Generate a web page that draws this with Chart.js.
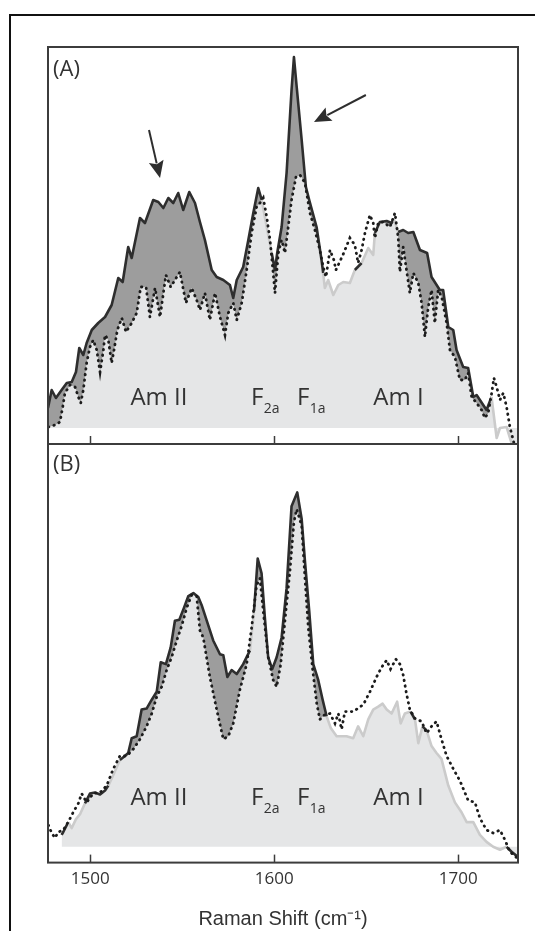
<!DOCTYPE html>
<html>
<head>
<meta charset="utf-8">
<script src="https://cdn.jsdelivr.net/npm/chart.js@4.4.0/dist/chart.umd.min.js"></script>
<style>
  html, body { margin: 0; padding: 0; background: #fff; }
  body { width: 535px; height: 931px; position: relative; overflow: hidden; }
  #cadre { position: absolute; left: 9px; top: 14px; width: 700px; height: 1000px;
           border-left: 2.5px solid #111; border-top: 2.5px solid #111; }
  canvas { position: absolute; }
  #grapheA { left: 38px; top: 37px; }
  #grapheB { left: 38px; top: 434px; }
</style>
</head>
<body>
<div id="cadre"></div>
<canvas id="grapheA" width="490" height="417"></canvas>
<canvas id="grapheB" width="490" height="497"></canvas>
<script>
'use strict';
/*-------------------------------------------------------*\
     Données : [nombre d'onde, intensité]
\*-------------------------------------------------------*/
// Panneau (A) : spectre en trait plein
var aPlein = [[1477,20],[1479,38],[1481.3,30],[1484.4,38],[1487.2,45],[1489.9,46],[1492.2,56],[1494,80],[1496.2,73],[1498,85],
  [1500.8,98],[1504.3,105],[1508,111],[1511.6,123],[1515.2,150],[1517.6,146],[1520.6,181],[1522.5,170],[1527,210],[1529.7,205],
  [1534.2,228],[1537,226],[1539.7,220],[1542.4,230],[1545.1,225],[1547.8,235],[1550.5,218],[1553.8,236],[1556.9,225],[1559.6,206],
  [1562.3,188],[1566,158],[1568.7,151],[1572.3,148],[1575.9,143],[1577.7,130],[1579.6,148],[1583.1,161],[1585.9,188],[1588.6,215],
  [1591.3,240],[1593.2,228],[1595.9,201],[1598.6,175],[1600.4,158],[1601.6,175],[1604,201],[1606.7,255],[1609.4,338],[1610.7,371],
  [1612.2,341],[1614.9,288],[1617.2,241],[1619,228],[1623,201],[1625.7,168],[1626.6,155],[1627.5,140],[1629.3,148],[1632.1,133],
  [1634.8,143],[1637.5,146],[1641.1,145],[1643.8,158],[1647.5,165],[1651.1,180],[1653.8,173],[1654.7,195],[1657.4,206],[1661.1,207],
  [1663.8,205],[1665,209],[1667.4,196],[1670.1,198],[1672.8,195],[1675.6,196],[1679.2,178],[1683.1,175],[1685.5,151],[1690,138],
  [1691.8,138],[1694.6,101],[1697.3,98],[1699.1,78],[1702.7,61],[1705.4,60],[1708.2,31],[1710,33],[1713.6,23],[1715.4,18],
  [1718.1,31],[1720.9,-10],[1722.7,0],[1726.3,1],[1729,-15],[1730.8,-19],[1732.4,-25]];
// Panneau (A) : spectre en pointillés
var aPointilles = [[1477.2,1],[1480.8,3],[1483.5,6],[1485,21],[1486.2,35],[1489,43],[1491.7,41],[1493.5,31],[1494.8,25],[1496.2,38],
  [1498,65],[1499.8,81],[1501.6,88],[1503.5,78],[1505.3,56],[1507.1,78],[1508,93],[1509.8,88],[1511.6,65],[1512.9,78],
  [1514.7,98],[1517.1,110],[1519.4,96],[1522.5,105],[1525.2,115],[1527.4,141],[1530.3,141],[1532.4,111],[1535.2,140],[1537.9,111],
  [1541.1,153],[1543.7,141],[1547,151],[1548.7,156],[1552,125],[1555.1,140],[1557.8,128],[1559.6,118],[1562.3,135],[1565,108],
  [1567.8,135],[1570.5,111],[1573.2,93],[1575,115],[1577.7,125],[1579.6,108],[1582.3,125],[1585,158],[1587.7,195],[1590.4,221],
  [1592.2,225],[1594,230],[1595.9,211],[1597.7,188],[1599.1,161],[1600.4,135],[1602.2,175],[1604,188],[1605.8,175],[1607.6,201],
  [1609.4,228],[1611.8,251],[1614,253],[1616.7,245],[1619.4,215],[1622.1,198],[1624.8,178],[1626.6,161],[1628.1,151],[1630.3,178],
  [1632.4,168],[1633.5,158],[1637.3,173],[1641.1,190],[1643.8,183],[1645.6,165],[1647.5,178],[1649.3,195],[1652,213],[1653.8,205],
  [1654.7,190],[1656.5,205],[1659.2,206],[1662.9,201],[1665.6,215],[1667.4,190],[1668.3,156],[1670.1,181],[1671.9,158],[1673.7,135],
  [1675.6,155],[1678.3,145],[1680.1,125],[1681.9,91],[1683.7,121],[1685.5,138],[1687.3,105],[1689.1,138],[1691,131],[1693.7,105],
  [1695.5,78],[1698.2,71],[1700.9,48],[1703.6,48],[1705.4,55],[1707.3,31],[1710,25],[1712.7,18],[1714.5,10],[1716.3,15],
  [1718.2,35],[1719.4,50],[1720.9,41],[1722.7,28],[1724.5,35],[1726.3,21],[1728.1,1],[1729.9,-12],[1730.8,-19]];
// Panneau (B) : spectre en trait plein
var bPlein = [[1484.4,12],[1485.3,15],[1488,25],[1489.9,19],[1492.2,28],[1494.4,33],[1497.1,44],[1499.8,54],[1502.5,55],[1505.3,53],
  [1508,57],[1509.8,62],[1512.3,72],[1516.1,88],[1518.8,92],[1520.6,95],[1522.5,110],[1525.2,112],[1527.9,139],[1530.6,140],
  [1533.4,149],[1536.1,157],[1538.3,187],[1541.1,185],[1543.7,202],[1546,229],[1548.4,230],[1550.9,242],[1553.3,254],[1556,257],
  [1558.7,253],[1560.5,245],[1563.3,229],[1566.8,209],[1570.5,195],[1572.3,194],[1574.5,172],[1576.8,179],[1579.6,175],[1583.1,185],
  [1586.8,199],[1589,239],[1591,292],[1593.1,277],[1594.9,232],[1596.7,192],[1598.9,180],[1601.3,192],[1604,212],[1606.7,262],
  [1609.4,345],[1612.5,359],[1614.9,332],[1616.7,289],[1619,239],[1621.2,185],[1623.9,169],[1626.3,149],[1628.5,132],[1630.8,120],
  [1633.9,112],[1637.5,112],[1639.3,112],[1642.9,110],[1645.6,122],[1648.4,112],[1651.1,129],[1653.8,139],[1656.5,142],[1658.9,145],
  [1661.1,139],[1663.8,135],[1666.8,147],[1668.7,125],[1671,135],[1674.1,137],[1676.5,129],[1678.3,105],[1680.6,122],[1682.8,118],
  [1685.5,102],[1688.2,95],[1690.9,89],[1694.6,62],[1698.2,45],[1701.8,35],[1704.6,25],[1708.2,25],[1711.8,12],[1715.4,5],
  [1719,0],[1722.7,-3],[1726.3,0],[1729,-5],[1732.4,-10]];
// Panneau (B) : spectre en pointillés
var bPointilles = [[1477.2,22],[1479,14],[1480.8,9],[1482.6,15],[1485.3,17],[1488,25],[1490.7,35],[1493.5,44],[1495.3,54],[1498,45],
  [1501.6,54],[1505.3,55],[1508.9,62],[1512.5,79],[1516.1,92],[1519.8,92],[1523.4,99],[1527,109],[1530.6,122],[1533.4,135],
  [1536.1,152],[1538.8,162],[1541.5,179],[1544.2,192],[1547,209],[1549.7,224],[1552.4,242],[1555.1,255],[1557.8,254],[1559.6,219],
  [1561.4,212],[1565,172],[1568.7,139],[1572.3,109],[1575,112],[1577.7,125],[1581.3,159],[1585,185],[1587.7,222],[1590.4,265],
  [1592.2,272],[1594.4,232],[1596.7,192],[1599.4,169],[1601.3,162],[1603.5,185],[1605.8,229],[1608.5,279],[1610.7,329],[1612.2,342],
  [1614.9,325],[1616.7,272],[1618.5,222],[1620.9,179],[1623.1,145],[1624.8,129],[1627.5,134],[1630.3,135],[1633,125],[1634.8,135],
  [1636.6,119],[1638.4,137],[1643,137],[1648.4,144],[1652,157],[1655.6,172],[1658.4,182],[1661.1,189],[1663.2,180],[1666.1,190],
  [1668.3,185],[1670.1,174],[1671.9,155],[1673.7,139],[1676.5,130],[1680.1,127],[1682.8,115],[1685.5,122],[1688.2,127],[1690.9,109],
  [1693.7,92],[1697.3,79],[1700.9,67],[1703.6,55],[1705.4,47],[1709.1,45],[1711.8,29],[1715.4,17],[1719,14],[1722.7,17],
  [1725.4,7],[1728.1,-5],[1729.9,-8],[1732.4,-12]];
// Axe des abscisses
var xTicks = [1500, 1600, 1700];
var xTitre = 'Raman Shift (cm\u207B\u00B9)';
// Annotations des bandes : [texte, indice, nombre d'onde]
var bandes = [['Am II', '', 1537.3], ['F', '2a', 1587.3], ['F', '1a', 1612.3], ['Am I', '', 1667.5]];

/*-------------------------------------------------------*\
     Styles
\*-------------------------------------------------------*/
var TRAIT_FONCE = '#2e2e2e';
var TRAIT_CLAIR = '#cbcbcb';
var FOND_CLAIR = '#e5e6e7';
var FOND_FONCE = '#9d9d9d';
var CADRE = '#3c3c3c';
var POLICE = "'Open Sans', 'Noto Sans', sans-serif";

/*-------------------------------------------------------*\
     Fonctions utilitaires
\*-------------------------------------------------------*/
function versPoints(tab) {
  return tab.map(function(p) { return {x: p[0], y: p[1]}; });
}
// valeur interpolée d'une courbe à l'abscisse x
function valeurEn(tab, x) {
  for (var i = 0; i < tab.length - 1; i++) {
    if (x >= tab[i][0] && x <= tab[i + 1][0]) {
      var t = (x - tab[i][0]) / (tab[i + 1][0] - tab[i][0]);
      return tab[i][1] + t * (tab[i + 1][1] - tab[i][1]);
    }
  }
  return null;
}
// trait plein foncé quand il passe au-dessus des pointillés, gris clair sinon
function couleurSegment(pointilles) {
  return function(ctx) {
    var x = (ctx.p0.parsed.x + ctx.p1.parsed.x) / 2;
    var y = (ctx.p0.parsed.y + ctx.p1.parsed.y) / 2;
    var ref = valeurEn(pointilles, x);
    return (ref === null || y > ref - 4) ? TRAIT_FONCE : TRAIT_CLAIR;
  };
}
function fleche(ctx, x0, y0, x1, y1) {
  var ang = Math.atan2(y1 - y0, x1 - x0);
  var L = 17, l = 7.5;
  var bx = x1 - L * Math.cos(ang), by = y1 - L * Math.sin(ang);
  ctx.beginPath();
  ctx.moveTo(x0, y0);
  ctx.lineTo(bx + 2 * Math.cos(ang), by + 2 * Math.sin(ang));
  ctx.lineWidth = 2;
  ctx.strokeStyle = TRAIT_FONCE;
  ctx.stroke();
  ctx.beginPath();
  ctx.moveTo(x1, y1);
  ctx.lineTo(bx + l * Math.sin(ang), by - l * Math.cos(ang));
  ctx.lineTo(bx + 3 * Math.cos(ang), by + 3 * Math.sin(ang));
  ctx.lineTo(bx - l * Math.sin(ang), by + l * Math.cos(ang));
  ctx.closePath();
  ctx.fillStyle = TRAIT_FONCE;
  ctx.fill();
}

/*-------------------------------------------------------*\
     Plugin de décor : cadre, graduations, étiquettes
\*-------------------------------------------------------*/
function decor(lettre, yEtiquette, lettreY, fleches) {
  return {
    id: 'decor',
    afterDatasetsDraw: function(chart) {
      var ctx = chart.ctx, a = chart.chartArea;
      var sx = chart.scales.x, sy = chart.scales.y;
      ctx.save();
      // graduations vers l'intérieur
      ctx.strokeStyle = CADRE;
      ctx.lineWidth = 1.5;
      xTicks.forEach(function(v) {
        var x = Math.round(sx.getPixelForValue(v)) + 0.5;
        ctx.beginPath();
        ctx.moveTo(x, a.bottom);
        ctx.lineTo(x, a.bottom - 8);
        ctx.stroke();
      });
      // cadre du panneau
      ctx.lineWidth = 2;
      ctx.strokeRect(a.left, a.top, a.right - a.left, a.bottom - a.top);
      // étiquettes des bandes
      ctx.fillStyle = '#333';
      ctx.textBaseline = 'alphabetic';
      var yb = sy.getPixelForValue(yEtiquette);
      bandes.forEach(function(b) {
        var x = sx.getPixelForValue(b[2]);
        ctx.font = '24px ' + POLICE;
        if (b[1] === '') {
          ctx.textAlign = 'center';
          ctx.fillText(b[0], x, yb);
        } else {
          ctx.textAlign = 'left';
          ctx.fillText(b[0], x, yb);
          var w = ctx.measureText(b[0]).width;
          ctx.font = '14px ' + POLICE;
          ctx.fillText(b[1], x + w + 0.5, yb + 8);
        }
      });
      // lettre du panneau
      ctx.font = '22px ' + POLICE;
      ctx.textAlign = 'left';
      ctx.textBaseline = 'middle';
      ctx.fillText(lettre, a.left + 5, a.top + lettreY);
      // flèches
      fleches.forEach(function(f) {
        fleche(ctx, sx.getPixelForValue(f[0]), sy.getPixelForValue(f[1]),
          sx.getPixelForValue(f[2]), sy.getPixelForValue(f[3]));
      });
      ctx.restore();
    }
  };
}

/*-------------------------------------------------------*\
     Création des graphes
\*-------------------------------------------------------*/
function creerGraphe(id, plein, pointilles, yMin, yMax, avecAxe, plugin, padBas) {
  return new Chart(document.getElementById(id), {
    type: 'line',
    data: {
      datasets: [{
        // remplissage gris clair sous le trait plein
        data: versPoints(plein),
        order: 4,
        borderWidth: 0,
        borderColor: 'rgba(0,0,0,0)',
        backgroundColor: FOND_CLAIR,
        fill: 'origin',
        pointRadius: 0,
        tension: 0
      }, {
        // zone foncée entre les deux spectres quand les pointillés sont dessous
        data: versPoints(pointilles),
        order: 3,
        borderWidth: 0,
        borderColor: 'rgba(0,0,0,0)',
        fill: { target: 0, above: 'rgba(0,0,0,0)', below: FOND_FONCE },
        pointRadius: 0,
        tension: 0
      }, {
        // trait plein
        data: versPoints(plein),
        order: 2,
        borderWidth: 2.6,
        borderColor: TRAIT_FONCE,
        fill: false,
        segment: { borderColor: couleurSegment(pointilles) },
        pointRadius: 0,
        tension: 0,
        borderJoinStyle: 'round'
      }, {
        // pointillés
        data: versPoints(pointilles),
        order: 1,
        borderWidth: 2.8,
        borderColor: '#1c1c1c',
        borderDash: [0.5, 5.2],
        borderCapStyle: 'round',
        fill: false,
        pointRadius: 0,
        tension: 0
      }]
    },
    options: {
      responsive: false,
      animation: false,
      events: [],
      layout: { padding: { left: 10, right: 10, top: 10, bottom: padBas } },
      plugins: {
        legend: { display: false },
        tooltip: { enabled: false },
        filler: { drawTime: 'beforeDatasetsDraw' }
      },
      scales: {
        x: {
          type: 'linear',
          min: 1477,
          max: 1732.5,
          display: avecAxe,
          afterBuildTicks: function(axis) {
            axis.ticks = xTicks.map(function(v) { return {value: v}; });
          },
          grid: { display: false, drawTicks: false },
          border: { display: false },
          ticks: {
            padding: 6,
            color: '#333',
            font: { family: POLICE, size: 17 },
            callback: function(v) { return String(v); }
          },
          title: {
            display: true,
            text: xTitre,
            color: '#333',
            font: { family: "'Liberation Sans', Arial, sans-serif", size: 20 },
            padding: { top: 12, bottom: 0 }
          }
        },
        y: {
          type: 'linear',
          min: yMin,
          max: yMax,
          display: false
        }
      }
    },
    plugins: [plugin]
  });
}

var grapheA = creerGraphe('grapheA', aPlein, aPointilles, -16, 381, false,
  decor('(A)', 23, 23, [[1531.9, 298, 1537.9, 250], [1649.8, 333, 1621.6, 306]]), 10);
var grapheB = creerGraphe('grapheB', bPlein, bPointilles, -16, 408, true,
  decor('(B)', 42, 21, []), 0);
</script>
</body>
</html>
